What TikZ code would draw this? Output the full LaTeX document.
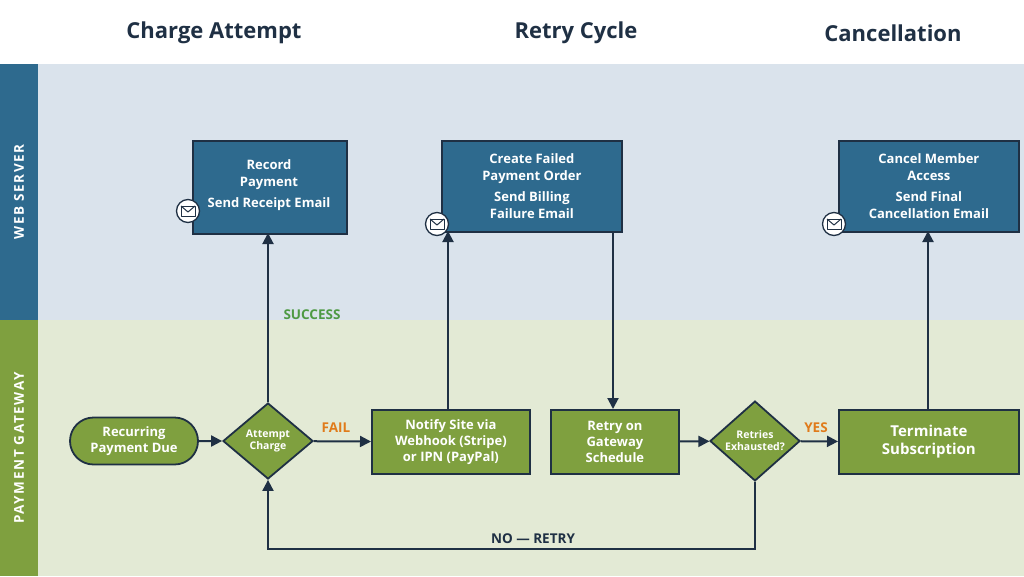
\documentclass[tikz,border=0pt]{standalone}
\usepackage{fontspec}
\setmainfont{Open Sans}
\newfontfamily\spaced[LetterSpace=12]{Open Sans}
\usetikzlibrary{shapes.geometric,shapes.misc,arrows.meta}
\definecolor{blu}{HTML}{2E6A8E}
\definecolor{grn}{HTML}{7FA03F}
\definecolor{dk}{HTML}{1F3044}
\definecolor{laneb}{HTML}{DAE3EC}
\definecolor{laneg}{HTML}{E3EAD5}
\definecolor{orng}{HTML}{E07B1A}
\definecolor{sgrn}{HTML}{4E9A44}
\begin{document}
\begin{tikzpicture}[x=1pt,y=-1pt,
 bbox/.style={draw=dk,line width=1.8pt,fill=blu,text=white,font=\bfseries\fontsize{13}{17}\selectfont,align=center,anchor=north west,inner sep=0},
 gbox/.style={draw=dk,line width=1.8pt,fill=grn,text=white,font=\bfseries\fontsize{13}{16}\selectfont,align=center,anchor=north west,inner sep=0},
 dia/.style={diamond,draw=dk,line width=1.8pt,fill=grn,text=white,font=\bfseries\fontsize{10.5}{12}\selectfont,align=center,inner sep=0},
 arr/.style={draw=dk,line width=2pt,-{Triangle[length=11pt,width=11pt]}},
 ttl/.style={font=\bfseries\fontsize{22}{24}\selectfont,text=dk},
 lane/.style={text=white,font=\spaced\bfseries\fontsize{13.5}{15}\selectfont,rotate=90},
 lbl/.style={font=\bfseries\fontsize{13.5}{15}\selectfont},
 mail/.style={circle,draw=dk,fill=white,line width=1.3pt,minimum size=23pt,inner sep=0}]
\useasboundingbox (0,0) rectangle (1024,576);
\fill[white] (0,0) rectangle (1024,64);
\fill[laneb] (0,64) rectangle (1024,320);
\fill[laneg] (0,320) rectangle (1024,576);
\fill[blu] (0,64) rectangle (38,320);
\fill[grn] (0,320) rectangle (38,576);
\node[lane] (l1) at (19,192) {WEB SERVER};
\node[lane] (l2) at (19,448) {PAYMENT GATEWAY};
\node[ttl] (t1) at (214,33) {Charge Attempt};
\node[ttl] (t2) at (576,33) {Retry Cycle};
\node[ttl] (t3) at (893,33) {Cancellation};
% blue boxes
\node[bbox,minimum width=154pt,minimum height=93pt] (rec) at (192,140) {};
\node[font=\bfseries\fontsize{13}{17}\selectfont,text=white,align=center] (rect) at (269,185) {Record\\Payment\\[4pt]Send Receipt Email};
\node[bbox,minimum width=180pt,minimum height=91pt] (cf) at (441,140) {Create Failed\\Payment Order\\[4pt]Send Billing\\Failure Email};
\node[bbox,minimum width=180pt,minimum height=91pt] (cm) at (838,140) {Cancel Member\\Access\\[4pt]Send Final\\Cancellation Email};
% green
\node[rounded rectangle,draw=dk,line width=1.8pt,fill=grn,text=white,font=\bfseries\fontsize{13}{16}\selectfont,align=center,minimum width=128pt,minimum height=47pt,inner sep=0] (rp) at (134,441) {Recurring\\Payment Due};
\node[dia,minimum width=90pt,minimum height=76pt] (ac) at (268,441) {Attempt\\Charge};
\node[gbox,minimum width=158pt,minimum height=64pt] (ns) at (371,409) {Notify Site via\\Webhook (Stripe)\\or IPN (PayPal)};
\node[gbox,minimum width=128pt,minimum height=64pt] (rg) at (550,409) {Retry on\\Gateway\\Schedule};
\node[dia,minimum width=90pt,minimum height=76pt] (re) at (755,441) {Retries\\Exhausted?};
\node[gbox,minimum width=180pt,minimum height=64pt,font=\bfseries\fontsize{15}{18}\selectfont] (ts) at (838,409) {Terminate\\Subscription};
% mail icons
\foreach \n/\x/\y in {m1/188/211,m2/437/224,m3/834/224}{
 \node[mail] (\n) at (\x,\y) {};
 \draw[dk,line width=1pt,line join=round] (\x-7,\y-5) rectangle (\x+7,\y+5);
 \draw[dk,line width=1pt,line join=round] (\x-7,\y-5) -- (\x,\y+1) -- (\x+7,\y-5);
}
% arrows
\coordinate (a1) at (268,233);
\coordinate (a2) at (448,231);
\coordinate (a3) at (613,231);
\coordinate (a4) at (613,409);
\coordinate (a5) at (928,409);
\coordinate (a6) at (928,231);
\draw[arr] (rp) -- (ac);
\draw[arr] (ac.north) -- (a1);
\draw[arr] (ac) -- (ns);
\draw[arr] (ns.north -| a2) -- (a2);
\draw[arr] (a3) -- (a4);
\draw[arr] (rg) -- (re);
\draw[arr] (re) -- (ts);
\draw[arr] (a5) -- (a6);
\coordinate (b1) at (755,549);
\coordinate (b2) at (268,549);
\draw[arr] (re.south) -- (b1) -- (b2) -- (ac.south);
\node[lbl,text=sgrn] (s) at (312,315) {SUCCESS};
\node[lbl,text=orng] (f) at (336,428) {FAIL};
\node[lbl,text=orng] (y) at (816,428) {YES};
\node[lbl,text=dk] (n) at (533,539) {NO — RETRY};
\end{tikzpicture}
\end{document}
